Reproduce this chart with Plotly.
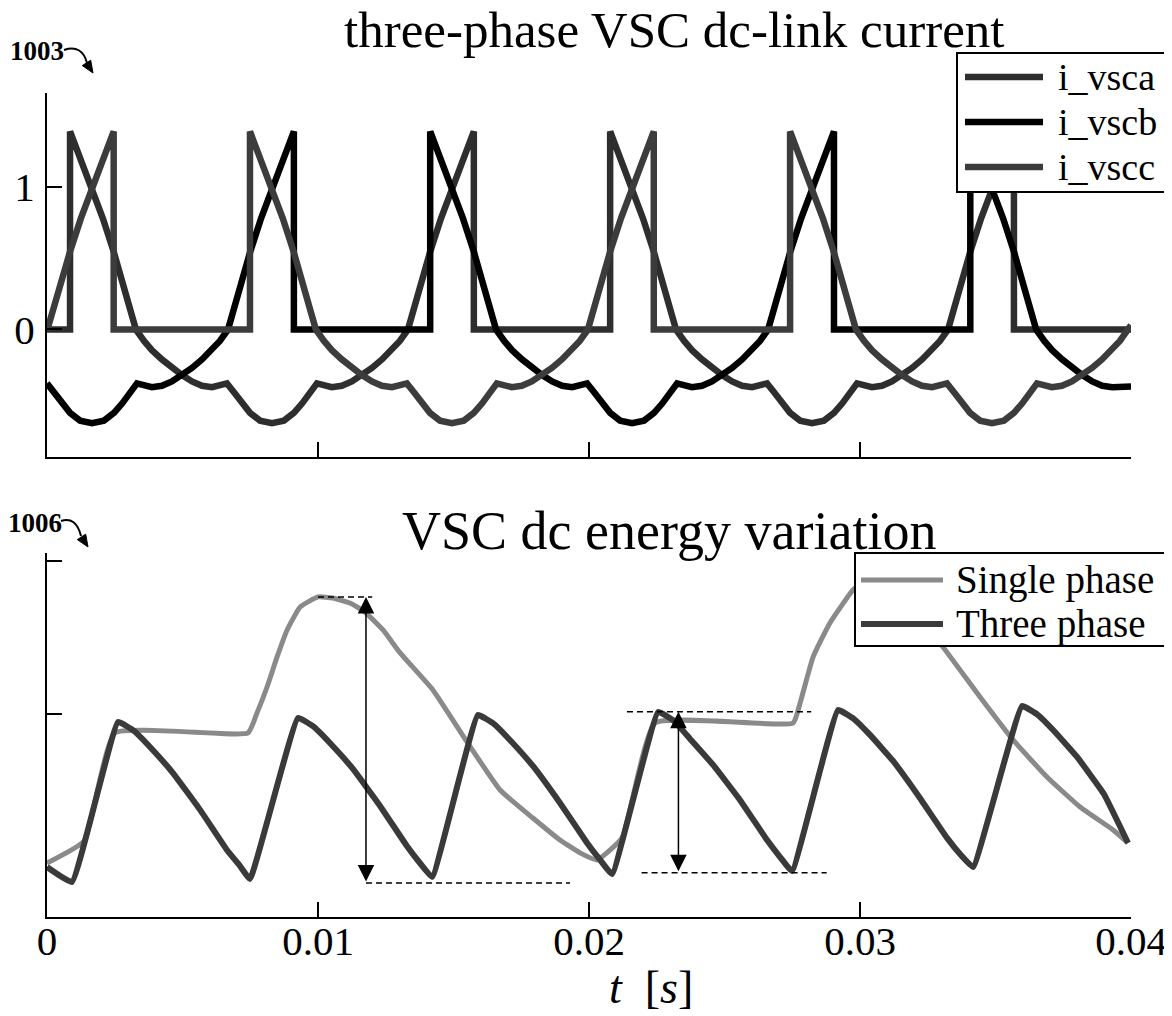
import plotly.graph_objects as go

# ---------------- data (time in ms) ----------------
# top panel: three-phase VSC dc-link currents
t_a_ms = [0, 0.85, 0.85, 1.25, 1.66, 2.06, 2.47, 2.88, 3.28, 3.58, 3.87, 4.24, 4.61, 4.98, 5.35, 5.72, 6.09, 6.64, 6.90, 7.19, 7.49, 7.86, 8.30,
          8.74, 9.11, 9.41, 9.70, 9.96, 10.51, 10.88, 11.25, 11.62, 11.99, 12.36, 12.73, 13.02, 13.32, 13.72, 14.13, 14.54, 14.94, 15.35, 15.75,
          15.75, 20.78,
          20.78, 21.18, 21.59, 21.99, 22.40, 22.81, 23.21, 23.51, 23.80, 24.17, 24.54, 24.91, 25.28, 25.65, 26.02, 26.57, 26.83, 27.12, 27.42, 27.79, 28.23,
          28.67, 29.04, 29.34, 29.63, 29.89, 30.44, 30.81, 31.18, 31.55, 31.92, 32.29, 32.66, 32.95, 33.25, 33.65, 34.06, 34.47, 34.87, 35.28, 35.68,
          35.68, 40.0]
i_vsca = [0, 0, 1.39, 1.19, 0.99, 0.78, 0.54, 0.28, 0.0, -0.08, -0.145, -0.21, -0.27, -0.32, -0.365, -0.395, -0.405, -0.378, -0.44, -0.52, -0.585, -0.64, -0.658,
          -0.64, -0.585, -0.52, -0.44, -0.378, -0.405, -0.395, -0.365, -0.32, -0.27, -0.21, -0.145, -0.08, 0.0, 0.28, 0.54, 0.78, 0.99, 1.19, 1.39,
          0, 0,
          1.39, 1.19, 0.99, 0.78, 0.54, 0.28, 0.0, -0.08, -0.145, -0.21, -0.27, -0.32, -0.365, -0.395, -0.405, -0.378, -0.44, -0.52, -0.585, -0.64, -0.658,
          -0.64, -0.585, -0.52, -0.44, -0.378, -0.405, -0.395, -0.365, -0.32, -0.27, -0.21, -0.145, -0.08, 0.0, 0.28, 0.54, 0.78, 0.99, 1.19, 1.39,
          0, 0]

t_b_ms = [0, 0.26, 0.55, 0.85, 1.22, 1.66,
          2.10, 2.47, 2.77, 3.06, 3.32, 3.87, 4.24, 4.61, 4.98, 5.35, 5.72, 6.09, 6.38, 6.68, 7.08, 7.49, 7.90, 8.30, 8.71, 9.11,
          9.11, 14.14,
          14.14, 14.54, 14.95, 15.35, 15.76, 16.17, 16.57, 16.87, 17.16, 17.53, 17.90, 18.27, 18.64, 19.01, 19.38, 19.93, 20.19, 20.48, 20.78, 21.15, 21.59,
          22.03, 22.40, 22.70, 22.99, 23.25, 23.80, 24.17, 24.54, 24.91, 25.28, 25.65, 26.02, 26.31, 26.61, 27.01, 27.42, 27.83, 28.23, 28.64, 29.04,
          29.04, 34.07,
          34.07, 34.47, 34.88, 35.28, 35.69, 36.10, 36.50, 36.80, 37.09, 37.46, 37.83, 38.20, 38.57, 38.94, 39.31,
          40.0]
i_vscb = [-0.378, -0.44, -0.52, -0.585, -0.64, -0.658,
          -0.64, -0.585, -0.52, -0.44, -0.378, -0.405, -0.395, -0.365, -0.32, -0.27, -0.21, -0.145, -0.08, 0.0, 0.28, 0.54, 0.78, 0.99, 1.19, 1.39,
          0, 0,
          1.39, 1.19, 0.99, 0.78, 0.54, 0.28, 0.0, -0.08, -0.145, -0.21, -0.27, -0.32, -0.365, -0.395, -0.405, -0.378, -0.44, -0.52, -0.585, -0.64, -0.658,
          -0.64, -0.585, -0.52, -0.44, -0.378, -0.405, -0.395, -0.365, -0.32, -0.27, -0.21, -0.145, -0.08, 0.0, 0.28, 0.54, 0.78, 0.99, 1.19, 1.39,
          0, 0,
          1.39, 1.19, 0.99, 0.78, 0.54, 0.28, 0.0, -0.08, -0.145, -0.21, -0.27, -0.32, -0.365, -0.395, -0.405,
          -0.40]

t_c_ms = [0, 0.43, 0.84, 1.25, 1.65, 2.06, 2.46, 2.46, 7.49,
          7.49, 7.89, 8.30, 8.70, 9.11, 9.52, 9.92, 10.22, 10.51, 10.88, 11.25, 11.62, 11.99, 12.36, 12.73, 13.28, 13.54, 13.83, 14.13, 14.50, 14.94,
          15.38, 15.75, 16.05, 16.34, 16.60, 17.15, 17.52, 17.89, 18.26, 18.63, 19.00, 19.37, 19.66, 19.96, 20.36, 20.77, 21.18, 21.58, 21.99, 22.39,
          22.39, 27.42,
          27.42, 27.82, 28.23, 28.63, 29.04, 29.45, 29.85, 30.15, 30.44, 30.81, 31.18, 31.55, 31.92, 32.29, 32.66, 33.21, 33.47, 33.76, 34.06, 34.43, 34.87,
          35.31, 35.68, 35.98, 36.27, 36.53, 37.08, 37.45, 37.82, 38.19, 38.56, 38.93, 39.30, 39.59,
          40.0]
i_vscc = [-0.01, 0.28, 0.54, 0.78, 0.99, 1.19, 1.39, 0, 0,
          1.39, 1.19, 0.99, 0.78, 0.54, 0.28, 0.0, -0.08, -0.145, -0.21, -0.27, -0.32, -0.365, -0.395, -0.405, -0.378, -0.44, -0.52, -0.585, -0.64, -0.658,
          -0.64, -0.585, -0.52, -0.44, -0.378, -0.405, -0.395, -0.365, -0.32, -0.27, -0.21, -0.145, -0.08, 0.0, 0.28, 0.54, 0.78, 0.99, 1.19, 1.39,
          0, 0,
          1.39, 1.19, 0.99, 0.78, 0.54, 0.28, 0.0, -0.08, -0.145, -0.21, -0.27, -0.32, -0.365, -0.395, -0.405, -0.378, -0.44, -0.52, -0.585, -0.64, -0.658,
          -0.64, -0.585, -0.52, -0.44, -0.378, -0.405, -0.395, -0.365, -0.32, -0.27, -0.21, -0.145, -0.08,
          0.03]

# bottom panel: VSC dc energy variation (arbitrary units)
t_three_ms = [0, 0.92, 2.62, 3.21, 3.80, 4.65, 5.65, 6.64, 7.12, 7.49,
              9.26, 9.85, 10.44, 11.29, 12.29, 13.28, 13.76, 14.21,
              15.90, 16.49, 17.08, 17.93, 18.93, 19.93, 20.41, 20.85,
              22.55, 23.14, 23.73, 24.58, 25.57, 26.57, 27.05, 27.49,
              29.19, 29.78, 30.37, 31.22, 32.21, 33.21, 33.69, 34.17,
              35.98, 36.57, 37.16, 38.01, 39.00, 39.89]
e_three = [0.0, -0.098, 0.948, 0.889, 0.784, 0.614, 0.373, 0.111, 0.007, -0.078,
           0.974, 0.915, 0.810, 0.641, 0.399, 0.137, 0.026, -0.065,
           0.993, 0.935, 0.830, 0.660, 0.418, 0.157, 0.046, -0.046,
           1.013, 0.954, 0.837, 0.667, 0.438, 0.176, 0.065, -0.026,
           1.026, 0.967, 0.863, 0.693, 0.451, 0.190, 0.085, 0.0,
           1.052, 0.993, 0.889, 0.719, 0.477, 0.157]

t_single_ms = [0, 1.37, 2.51, 7.42, 7.75, 8.12, 8.49, 8.86, 9.34, 10.0,
               10.55, 11.18, 11.73, 12.40, 13.03, 14.24, 15.50, 16.72, 17.93, 18.93,
               19.67, 20.30, 21.22, 22.44, 27.53, 27.79, 28.27, 28.89, 29.74, 30.18,
               30.92, 31.85, 33.06, 34.43, 35.65, 36.90, 38.12, 39.34, 39.89]
e_single = [0.026, 0.170, 0.876, 0.876, 1.007, 1.176, 1.373, 1.549, 1.699, 1.765,
            1.758, 1.725, 1.667, 1.549, 1.399, 1.157, 0.817, 0.503, 0.320, 0.176,
            0.092, 0.046, 0.190, 0.941, 0.941, 1.072, 1.373, 1.595, 1.810, 1.869,
            1.843, 1.693, 1.438, 1.111, 0.830, 0.588, 0.392, 0.242, 0.157]

x_tick_vals = [0, 0.01, 0.02, 0.03, 0.04]
x_tick_text = ["0", "0.01", "0.02", "0.03", "0.04"]
top_y_ticks = [0, 1]
top_y_text = ["0", "1"]
bottom_y_ticks = [1, 2]

top_names = ["i_vsca", "i_vscb", "i_vscc"]
top_colors = ["#2e2e2e", "#000000", "#3c3c3c"]
bottom_names = ["Single phase", "Three phase"]
bottom_colors = ["#8a8a8a", "#3a3a3a"]

# measurement markers on the energy plot (ms, value)
dash_segments = [(10.0, 12.0, 1.765), (11.77, 19.30, -0.105), (21.40, 28.2, 1.015), (21.94, 28.77, -0.037)]
double_arrows = [(11.77, 1.765, -0.105), (23.30, 1.015, -0.037)]

# ---------------- figure ----------------
FONT = "Liberation Serif"
OFF = 8                      # default page body margin of the html page
W, H = 1172 - OFF, 1016 - OFF
L, R, T, B = 47 - OFF, 41, 93 - OFF, 99
PW, PH = W - L - R, H - T - B


def pxx(x):   # reference-picture x pixel -> paper
    return (x - 47) / PW


def pxy(y):   # reference-picture y pixel -> paper
    return (917 - y) / PH


def ms(v):
    return [t / 1000 for t in v]


fig = go.Figure()
for name, tt, yy, col in zip(top_names, [t_a_ms, t_b_ms, t_c_ms], [i_vsca, i_vscb, i_vscc], top_colors):
    fig.add_trace(go.Scatter(x=ms(tt), y=yy, mode="lines", name=name, showlegend=False,
                             line=dict(color=col, width=6.5), xaxis="x", yaxis="y"))

fig.add_trace(go.Scatter(x=ms(t_single_ms), y=e_single, mode="lines", name=bottom_names[0], showlegend=False,
                         line=dict(color=bottom_colors[0], width=5, shape="spline", smoothing=0.4),
                         xaxis="x2", yaxis="y2"))
fig.add_trace(go.Scatter(x=ms(t_three_ms), y=e_three, mode="lines", name=bottom_names[1], showlegend=False,
                         line=dict(color=bottom_colors[1], width=6, shape="spline", smoothing=0.3),
                         xaxis="x2", yaxis="y2"))

top_dom = [pxy(457), 1.0]
bot_dom = [0.0, pxy(553)]

axis_common = dict(showline=True, linecolor="black", linewidth=2, ticks="inside", ticklen=15,
                   tickwidth=1.5, tickcolor="black", showgrid=False, zeroline=False,
                   tickfont=dict(family=FONT, size=41, color="black"))

fig.update_layout(
    width=W, height=H,
    paper_bgcolor="white", plot_bgcolor="white",
    margin=dict(l=L, r=R, t=T, b=B, autoexpand=False),
    font=dict(family=FONT, color="black"),
    showlegend=False,
    xaxis=dict(domain=[0, 1], anchor="y", range=[0, 0.04], tickvals=x_tick_vals[1:],
               showticklabels=False, **axis_common),
    yaxis=dict(domain=top_dom, anchor="x", range=[-0.895, 1.66], tickvals=top_y_ticks,
               ticktext=top_y_text, ticklabelstandoff=2, **axis_common),
    xaxis2=dict(domain=[0, 1], anchor="y2", range=[0, 0.04], tickvals=x_tick_vals,
                ticktext=x_tick_text, ticklabelstandoff=-13, **axis_common),
    yaxis2=dict(domain=bot_dom, anchor="x2", range=[-0.327, 2.052], tickvals=bottom_y_ticks,
                showticklabels=False, **axis_common),
)

annotations = [
    dict(text="three-phase VSC dc-link current", x=pxx(674), y=pxy(30), xref="paper", yref="paper",
         showarrow=False, xanchor="center", yanchor="middle", font=dict(family=FONT, size=51)),
    dict(text="VSC dc energy variation", x=pxx(669), y=pxy(531), xref="paper", yref="paper",
         showarrow=False, xanchor="center", yanchor="middle", font=dict(family=FONT, size=54)),
    dict(text="<i>t</i>  [<i>s</i>]", x=pxx(651), y=pxy(987), xref="paper", yref="paper",
         showarrow=False, xanchor="center", yanchor="middle", font=dict(family=FONT, size=46)),
    dict(text="<b>1003</b>", x=pxx(37), y=pxy(51), xref="paper", yref="paper",
         showarrow=False, xanchor="center", yanchor="middle", font=dict(family=FONT, size=27)),
    dict(text="<b>1006</b>", x=pxx(35), y=pxy(523), xref="paper", yref="paper",
         showarrow=False, xanchor="center", yanchor="middle", font=dict(family=FONT, size=27)),
]
for (tx, y_top, y_bot) in double_arrows:
    annotations.append(dict(text="", x=tx / 1000, y=y_top, ax=tx / 1000, ay=y_bot,
                            xref="x2", yref="y2", axref="x2", ayref="y2", showarrow=True,
                            arrowhead=2, arrowside="end+start", arrowsize=2.2, arrowwidth=1.5,
                            arrowcolor="black"))

shapes = []
for (x0, x1, yv) in dash_segments:
    shapes.append(dict(type="line", xref="x2", yref="y2", x0=x0 / 1000, x1=x1 / 1000, y0=yv, y1=yv,
                       line=dict(color="black", width=1.5, dash="6px,4px")))


def curved_arrow(p0, c, p1, tip, b1, b2):
    path = "M{},{} Q{},{} {},{}".format(pxx(p0[0]), pxy(p0[1]), pxx(c[0]), pxy(c[1]), pxx(p1[0]), pxy(p1[1]))
    head = "M{},{} L{},{} L{},{} Z".format(pxx(tip[0]), pxy(tip[1]), pxx(b1[0]), pxy(b1[1]), pxx(b2[0]), pxy(b2[1]))
    return [dict(type="path", xref="paper", yref="paper", path=path, line=dict(color="black", width=2)),
            dict(type="path", xref="paper", yref="paper", path=head, line=dict(color="black", width=1),
                 fillcolor="black")]


shapes += curved_arrow((64, 50), (82, 44), (87, 63), (93, 73), (90.7, 60.2), (82.3, 65.6))
shapes += curved_arrow((61, 521), (76, 516), (81, 536), (88, 547), (85.7, 534.2), (77.3, 539.6))


# legends (box, line samples, labels) placed as in the reference
def legend_block(box, line_x, text_x, rows, names, colors, widths, size):
    out_s = [dict(type="rect", xref="paper", yref="paper", layer="above",
                  x0=pxx(box[0]), x1=pxx(box[2]), y0=pxy(box[1]), y1=pxy(box[3]),
                  line=dict(color="black", width=2), fillcolor="white")]
    out_a = []
    for ry, nm, col, lw in zip(rows, names, colors, widths):
        out_s.append(dict(type="line", xref="paper", yref="paper", layer="above",
                          x0=pxx(line_x[0]), x1=pxx(line_x[1]), y0=pxy(ry), y1=pxy(ry),
                          line=dict(color=col, width=lw)))
        out_a.append(dict(text=nm, x=pxx(text_x), y=pxy(ry), xref="paper", yref="paper",
                          showarrow=False, xanchor="left", yanchor="middle",
                          font=dict(family=FONT, size=size, color="black")))
    return out_s, out_a


s1, a1 = legend_block((957, 53, 1200, 192), (965, 1043), 1056, [77, 122, 167],
                      top_names, top_colors, [6.5, 6.5, 6.5], 38)
s2, a2 = legend_block((855, 553, 1200, 646), (861, 943), 954, [580, 624],
                      bottom_names, bottom_colors, [5, 6], 39)
shapes += s1 + s2
annotations += a1 + a2

fig.update_layout(shapes=shapes, annotations=annotations)

fig.write_html("out.html")
